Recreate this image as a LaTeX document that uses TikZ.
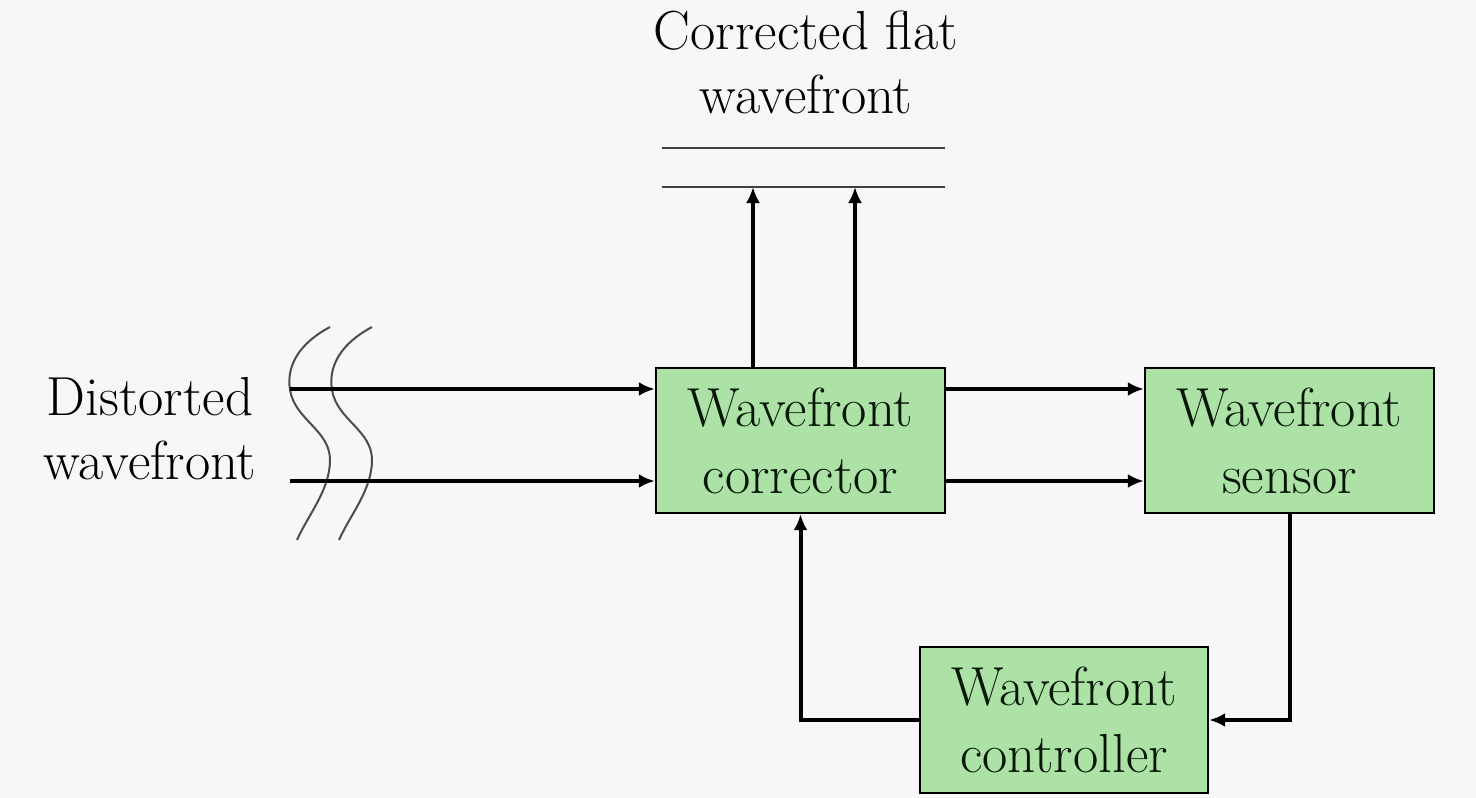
\documentclass[tikz,border=0pt]{standalone}
\usetikzlibrary{arrows.meta}
\definecolor{bgc}{RGB}{247,247,247}
\definecolor{boxgreen}{RGB}{172,226,166}
\definecolor{txt}{RGB}{8,22,8}
\begin{document}
\begin{tikzpicture}[x=1pt,y=-1pt,
  blk/.style={draw=black, line width=2.4pt, fill=boxgreen, minimum width=289pt, minimum height=145pt,
              align=center, inner sep=0pt, text=txt, font=\fontsize{55}{67}\selectfont},
  lbl/.style={align=center, inner sep=0pt, text=black, font=\fontsize{55}{64}\selectfont},
  arr/.style={line width=4pt, -{Latex[length=16pt,width=14pt]}},
  wave/.style={line width=2pt, draw=black!70},
  flat/.style={line width=2pt, draw=black!75}]
\fill[bgc] (0,0) rectangle (1476,798);
\useasboundingbox (0,0) rectangle (1476,798);

% blocks
\node[blk] (corr) at (800.5,440.5) {Wavefront\\corrector};
\node[blk] (sens) at (1289.5,440.5) {Wavefront\\sensor};
\node[blk, minimum width=288pt, minimum height=146pt] (ctrl) at (1064,720) {Wavefront\\controller};

% labels
\node[lbl] (toplbl) at (806,62) {Corrected flat\\wavefront};
\node[lbl] (distlbl) at (150,429) {Distorted\\wavefront};

% flat wavefront lines
\coordinate (f1a) at (662,148); \coordinate (f1b) at (945,148);
\coordinate (f2a) at (662,187); \coordinate (f2b) at (945,187);
\draw[flat] (f1a) -- (f1b);
\draw[flat] (f2a) -- (f2b);

% distorted wavefront curves
\draw[wave] (330,327) .. controls (300,343) and (286,365) .. (290,390)
            .. controls (295,420) and (330,430) .. (330,460)
            .. controls (330,490) and (308,515) .. (297,540);
\draw[wave] (372,327) .. controls (342,343) and (328,365) .. (332,390)
            .. controls (337,420) and (372,430) .. (372,460)
            .. controls (372,490) and (350,515) .. (339,540);

% input arrows
\coordinate (in1) at (290,389);
\coordinate (in2) at (290,481);
\draw[arr] (in1) -- (in1 -| corr.west);
\draw[arr] (in2) -- (in2 -| corr.west);

% corrector -> sensor
\draw[arr] (corr.east |- in1) -- (sens.west |- in1);
\draw[arr] (corr.east |- in2) -- (sens.west |- in2);

% corrector -> flat wavefront
\coordinate (up1) at (753,187);
\coordinate (up2) at (855,187);
\draw[arr] (up1 |- corr.north) -- (up1);
\draw[arr] (up2 |- corr.north) -- (up2);

% feedback loop
\draw[arr] (sens.south) -- (sens.south |- ctrl.east) -- (ctrl.east);
\draw[arr] (ctrl.west) -- (corr.south |- ctrl.west) -- (corr.south);
\end{tikzpicture}
\end{document}
